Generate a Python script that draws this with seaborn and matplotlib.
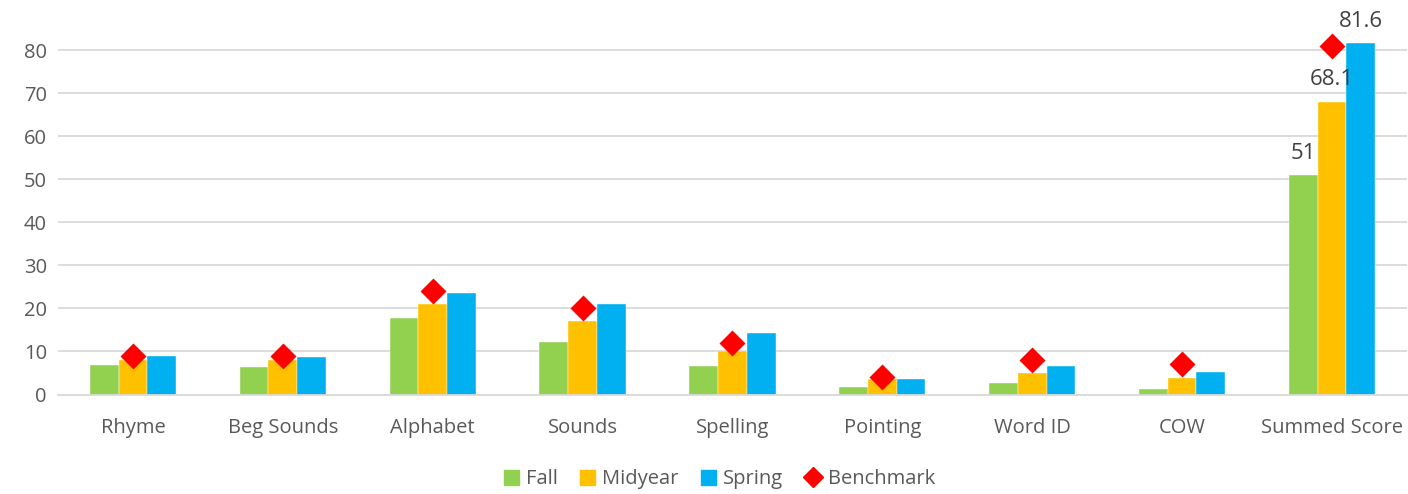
import matplotlib
matplotlib.use("Agg")
import matplotlib.pyplot as plt
from matplotlib.lines import Line2D
from matplotlib.patches import Patch
import seaborn as sns
import pandas as pd

categories = ["Rhyme", "Beg Sounds", "Alphabet", "Sounds", "Spelling",
              "Pointing", "Word ID", "COW", "Summed Score"]
fall = [6.9, 6.3, 17.8, 12.2, 6.7, 1.8, 2.7, 1.2, 51]
midyear = [8.0, 8.0, 21.0, 17.1, 10.1, 3.5, 4.9, 3.8, 68.1]
spring = [9.0, 8.7, 23.7, 21.0, 14.2, 3.6, 6.6, 5.2, 81.6]
benchmark = [9, 9, 24, 20, 12, 4, 8, 7, 81]
seasons = ["Fall", "Midyear", "Spring"]
colors = {"Fall": "#92D050", "Midyear": "#FFC000", "Spring": "#00B0F0"}

df = pd.DataFrame({
    "Category": categories * 3,
    "Season": [s for s in seasons for _ in categories],
    "Score": fall + midyear + spring,
})
bench_df = pd.DataFrame({"Category": categories, "Benchmark": benchmark})

sns.set_style("white")
plt.rcParams["font.family"] = ["Open Sans", "DejaVu Sans"]
text_color = "#595959"

fig = plt.figure(figsize=(14.08, 4.94), dpi=100)
ax = fig.add_axes([0.0412, 0.2014, 0.958, 0.7986])

sns.barplot(data=df, x="Category", y="Score", hue="Season", order=categories,
            hue_order=seasons, palette=colors, width=0.575, saturation=1,
            edgecolor="white", linewidth=0.3, legend=False, ax=ax)

sns.pointplot(data=bench_df, x="Category", y="Benchmark", order=categories,
              color="#FF0000", marker="D", markersize=11.5, linestyle="none",
              errorbar=None, ax=ax, zorder=5)

# data labels only on the summed score group
for cont in ax.containers:
    vals = [b.get_height() for b in cont]
    labels = [""] * (len(vals) - 1) + [f"{vals[-1]:g}"]
    ax.bar_label(cont, labels=labels, padding=8, fontsize=16, color="#404040")

ax.set_ylim(0, 91.7)
ax.set_yticks(range(0, 81, 10))
ax.set_xlim(-0.5, len(categories) - 0.5)
ax.grid(axis="y", color="#D9D9D9", linewidth=1.3)
ax.set_axisbelow(True)
for side in ["top", "right", "left"]:
    ax.spines[side].set_visible(False)
ax.spines["bottom"].set_color("#D9D9D9")
ax.spines["bottom"].set_linewidth(1.3)
ax.tick_params(axis="both", length=0, labelsize=14.5, colors=text_color)
ax.tick_params(axis="x", pad=17)
ax.tick_params(axis="y", pad=8)
ax.set_xlabel("")
ax.set_ylabel("")

handles = [Patch(color=colors[s], label=s) for s in seasons]
handles.append(Line2D([], [], color="#FF0000", marker="D", linestyle="none",
                      markersize=10, label="Benchmark"))
leg = fig.legend(handles=handles, loc="center", bbox_to_anchor=(0.511, 0.03),
                 ncol=4, frameon=False, fontsize=14.5, handlelength=0.75,
                 handleheight=0.75, handletextpad=0.35, columnspacing=1.1)
for t in leg.get_texts():
    t.set_color(text_color)

fig.savefig("out.png", dpi=100)
